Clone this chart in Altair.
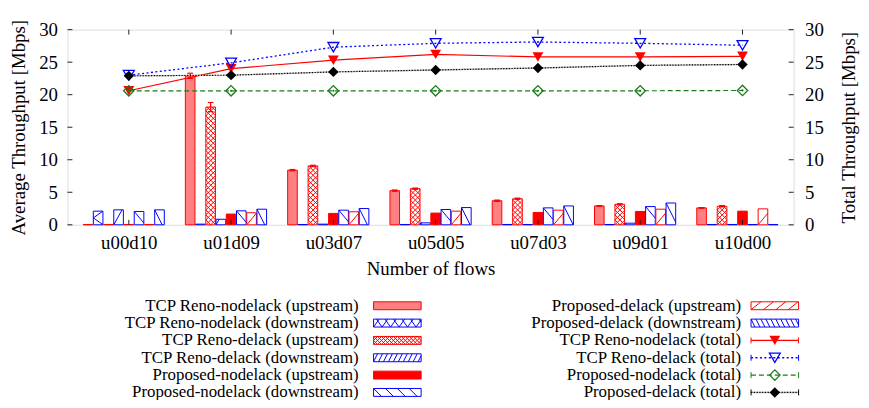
import json
import numpy as np
import pandas as pd
import altair as alt

# ---------------- data ----------------
categories = ["u00d10", "u01d09", "u03d07", "u05d05", "u07d03", "u09d01", "u10d00"]

reno_nodelack_up   = [0.05, 22.9, 8.4, 5.25, 3.7, 2.9, 2.6]
reno_nodelack_down = [2.1, 0.1, 0.05, 0.05, 0.05, 0.05, 0.05]
reno_delack_up     = [0.05, 18.1, 9.05, 5.55, 4.0, 3.15, 2.85]
reno_delack_down   = [2.3, 0.85, 0.1, 0.3, 0.05, 0.25, 0.05]
prop_nodelack_up   = [0.05, 1.65, 1.75, 1.8, 1.9, 2.05, 2.1]
prop_nodelack_down = [2.05, 2.15, 2.25, 2.35, 2.6, 2.8, 0.05]
prop_delack_up     = [0.05, 1.85, 2.0, 2.1, 2.25, 2.4, 2.45]
prop_delack_down   = [2.3, 2.4, 2.5, 2.65, 2.9, 3.35, 0.05]

reno_nodelack_up_err = [0.0, 0.4, 0.1, 0.1, 0.1, 0.05, 0.05]
reno_delack_up_err   = [0.0, 0.7, 0.1, 0.1, 0.1, 0.1, 0.1]

reno_nodelack_total = [20.6, 24.0, 25.3, 26.2, 25.8, 25.8, 25.9]
reno_delack_total   = [23.0, 24.9, 27.3, 27.9, 28.1, 27.9, 27.6]
prop_nodelack_total = [20.6, 20.6, 20.6, 20.6, 20.6, 20.6, 20.65]
prop_delack_total   = [22.9, 23.0, 23.5, 23.8, 24.1, 24.5, 24.65]

y_ticks = [0, 5, 10, 15, 20, 25, 30]

# ---------------- layout / style ----------------
FONT = "Liberation Serif"
W, H = 733, 197
XDOM = [-0.6, 6.5]
YDOM = [0, 30]
PXX = W / (XDOM[1] - XDOM[0])
PXY = H / (YDOM[1] - YDOM[0])
BAR_STEP = 0.1
BAR_HALF = 0.047
CENTER_SLOT = 4
RED, BLUE, GREEN, BLACK = "#ff0000", "#0000ff", "#1c7c1c", "#000000"

bar_series = [
    ("TCP Reno-nodelack (upstream)", reno_nodelack_up, "#ff8080", RED, None),
    ("TCP Reno-nodelack (downstream)", reno_nodelack_down, "white", BLUE, "xcoarse"),
    ("TCP Reno-delack (upstream)", reno_delack_up, "white", RED, "xfine"),
    ("TCP Reno-delack (downstream)", reno_delack_down, "white", BLUE, "fwd_steep"),
    ("Proposed-nodelack (upstream)", prop_nodelack_up, RED, RED, None),
    ("Proposed-nodelack (downstream)", prop_nodelack_down, "white", BLUE, "back"),
    ("Proposed-delack (upstream)", prop_delack_up, "white", RED, "fwd"),
    ("Proposed-delack (downstream)", prop_delack_down, "white", BLUE, "back_steep"),
]
bar_errors = {0: reno_nodelack_up_err, 2: reno_delack_up_err}

line_specs = [
    ("TCP Reno-nodelack (total)", reno_nodelack_total, RED, None, "triangle-down", True, 1.2),
    ("TCP Reno-delack (total)", reno_delack_total, BLUE, [2, 2.5], "triangle-down", False, 1.3),
    ("Proposed-nodelack (total)", prop_nodelack_total, GREEN, [5, 3], "diamond", False, 1.2),
    ("Proposed-delack (total)", prop_delack_total, BLACK, [1.2, 1.6], "diamond", True, 1.2),
]

# hatch families: (slope px/px, spacing px, phase px, anchor)
BAR_PATTERNS = {
    "xcoarse": [(0.7, 14, 7, "bottom"), (-0.7, 14, 7, "bottom")],
    "xfine": [(1.0, 5, 0, "bottom"), (-1.0, 5, 0, "bottom")],
    "fwd_steep": [(1.8, 20, 0, "bottom")],
    "back": [(-1.2, 20, 0, "top")],
    "fwd": [(1.2, 20, 0, "bottom")],
    "back_steep": [(-2.0, 22, 0, "top")],
}
LEG_PATTERNS = {
    "xcoarse": [(1.4, 12, 0, "bottom"), (-1.4, 12, 0, "bottom")],
    "xfine": [(1.0, 4, 0, "bottom"), (-1.0, 4, 0, "bottom")],
    "fwd_steep": [(2.0, 10, 0, "bottom")],
    "back": [(-1.0, 12, 0, "top")],
    "fwd": [(0.8, 10, 0, "bottom")],
    "back_steep": [(-2.0, 10, 0, "top")],
}


def clip_family(w, h, s, sp, ph, anchor):
    segs = []
    if h < 1.5:
        return segs
    if s > 0:
        cmin, cmax = -s * w, h
    else:
        cmin, cmax = 0.0, h - s * w
    base = ph if anchor == "bottom" else h + ph
    kmin = int(np.floor((cmin - base) / sp)) - 1
    kmax = int(np.ceil((cmax - base) / sp)) + 1
    for k in range(kmin, kmax + 1):
        c = base + k * sp
        xa = -c / s
        xb = (h - c) / s
        lo = max(0.0, min(xa, xb))
        hi = min(w, max(xa, xb))
        if hi - lo > 0.4:
            segs.append((lo, s * lo + c, hi, s * hi + c))
    return segs


# ---------------- build tables ----------------
bar_rows, hatch_rows, err_rows = [], [], []
for j, (name, vals, fill, stroke, pat) in enumerate(bar_series):
    for c, v in enumerate(vals):
        xc = c + (j - CENTER_SLOT) * BAR_STEP
        bar_rows.append(dict(xa=xc - BAR_HALF, xb=xc + BAR_HALF, y0=0.0, y1=v,
                             fill=fill, stroke=stroke))
        if pat:
            for (s, sp, ph, anchor) in BAR_PATTERNS[pat]:
                for lo, ylo, hi, yhi in clip_family(2 * BAR_HALF * PXX, v * PXY, s, sp, ph, anchor):
                    hatch_rows.append(dict(x1=xc - BAR_HALF + lo / PXX, x2=xc - BAR_HALF + hi / PXX,
                                           y1=ylo / PXY, y2=yhi / PXY, color=stroke))
        if j in bar_errors and bar_errors[j][c] > 0:
            e = bar_errors[j][c]
            err_rows.append(dict(x1=xc, x2=xc, y1=v - e, y2=v + e))
            err_rows.append(dict(x1=xc - 0.028, x2=xc + 0.028, y1=v + e, y2=v + e))
            err_rows.append(dict(x1=xc - 0.028, x2=xc + 0.028, y1=v - e, y2=v - e))

bars_df = pd.DataFrame(bar_rows)
hatch_df = pd.DataFrame(hatch_rows)
err_df = pd.DataFrame(err_rows)
ytick_df = pd.DataFrame({"t": y_ticks})
xtick_df = pd.DataFrame({"i": list(range(len(categories)))})

XS = alt.Scale(domain=XDOM, nice=False, zero=False)
YS = alt.Scale(domain=YDOM, nice=False, zero=False)
label_expr = json.dumps(categories) + "[datum.value]"

XAX = alt.Axis(values=list(range(len(categories))), labelExpr=label_expr, ticks=False,
               domain=False, grid=False, labelPadding=9, labelFontSize=19, labelFont=FONT,
               labelColor="black", labelOverlap=False, labelFlush=False,
               title="Number of flows", titleFont=FONT, titleFontSize=19,
               titleFontWeight="normal", titleColor="black", titlePadding=7)
YAX = alt.Axis(values=y_ticks, ticks=False, domain=False, grid=False, labelPadding=10,
               labelFontSize=19, labelFont=FONT, labelColor="black",
               title="Average Throughput [Mbps]", titleFont=FONT, titleFontSize=19,
               titleFontWeight="normal", titleColor="black", titlePadding=10)
YAXR = alt.Axis(orient="right", values=y_ticks, ticks=False, domain=False, grid=False,
                labelPadding=11, labelFontSize=19, labelFont=FONT, labelColor="black",
                title="Total Throughput [Mbps]", titleFont=FONT, titleFontSize=19,
                titleFontWeight="normal", titleColor="black", titlePadding=16,
                titleAngle=270, titleBaseline="top")


def X(f):
    return alt.X(f, scale=XS, axis=XAX)


def Y(f):
    return alt.Y(f, scale=YS, axis=YAX)


bars = alt.Chart(bars_df).mark_rect(strokeWidth=1).encode(
    x=X("xa:Q"), x2="xb", y=Y("y1:Q"), y2="y0",
    fill=alt.Fill("fill:N", scale=None), stroke=alt.Stroke("stroke:N", scale=None))
hatch = alt.Chart(hatch_df).mark_rule(strokeWidth=1).encode(
    x=X("x1:Q"), x2="x2", y=Y("y1:Q"), y2="y2", color=alt.Color("color:N", scale=None))
errs = alt.Chart(err_df).mark_rule(strokeWidth=1.2, color=RED).encode(
    x=X("x1:Q"), x2="x2", y=Y("y1:Q"), y2="y2")
tick_l = alt.Chart(ytick_df).mark_rule(color="#222", strokeWidth=1).encode(
    y=Y("t:Q"), x=alt.value(0), x2=alt.value(5))
tick_r = alt.Chart(ytick_df).mark_rule(color="#222", strokeWidth=1).encode(
    y=Y("t:Q"), x=alt.value(W - 5), x2=alt.value(W))
tick_b = alt.Chart(xtick_df).mark_rule(color="#222", strokeWidth=1).encode(
    x=X("i:Q"), y=alt.value(H), y2=alt.value(H - 5))
tick_t = alt.Chart(xtick_df).mark_rule(color="#222", strokeWidth=1).encode(
    x=X("i:Q"), y=alt.value(0), y2=alt.value(5))

main = alt.layer(bars, hatch, errs, tick_l, tick_r, tick_b, tick_t)

# total throughput lines (right axis)
line_layers = []
for name, vals, color, dash, shape, filled, sw in line_specs:
    df = pd.DataFrame({"i": list(range(len(categories))), "v": vals})
    enc = dict(x=alt.X("i:Q", scale=XS, axis=None), y=alt.Y("v:Q", scale=YS, axis=YAXR))
    if color == BLACK:
        line_layers.append(alt.Chart(df).mark_line(color="#b0b0b0", strokeWidth=1.4).encode(**enc))
    lk = dict(color=color, strokeWidth=sw)
    if dash:
        lk["strokeDash"] = dash
    line_layers.append(alt.Chart(df).mark_line(**lk).encode(**enc))
    pk = dict(shape=shape, size=120 if shape == "triangle-down" else 110, opacity=1,
              strokeWidth=1.3, color=color, filled=filled)
    line_layers.append(alt.Chart(df).mark_point(**pk).encode(**enc))
    if shape == "diamond" and not filled:
        line_layers.append(alt.Chart(df).mark_point(shape="circle", size=5, filled=True,
                                                    color=color, opacity=1).encode(**enc))
lines_grp = alt.layer(*line_layers)

# ---------------- legend (pixel layout below the plot) ----------------
LX = alt.Scale(domain=[0, W], range=[0, W], nice=False, zero=False)
LY = alt.Scale(domain=[0, H], range=[0, H], nice=False, zero=False)
ROW0, ROWSTEP = 278.7, 17.5
COLS = [dict(label_x=294, s0=309, s1=357), dict(label_x=680, s0=690, s1=738)]

entries = [(b[0], "bar", b) for b in bar_series] + [(l[0], "line", l) for l in line_specs]
text_rows, lrect_rows, lhatch_rows = [], [], []
lline_layers = []
for k, (label, kind, spec) in enumerate(entries):
    col = COLS[k // 6]
    yc = ROW0 + ROWSTEP * (k % 6)
    text_rows.append(dict(x=col["label_x"], y=yc, label=label))
    if kind == "bar":
        _, _, fill, stroke, pat = spec
        top, bot = yc - 4, yc + 4
        lrect_rows.append(dict(x=col["s0"], x2=col["s1"], y=top, y2=bot, fill=fill, stroke=stroke))
        if pat:
            for (s, sp, ph, anchor) in LEG_PATTERNS[pat]:
                for lo, ylo, hi, yhi in clip_family(col["s1"] - col["s0"], bot - top, s, sp, ph, anchor):
                    lhatch_rows.append(dict(x=col["s0"] + lo, x2=col["s0"] + hi,
                                            y=bot - ylo, y2=bot - yhi, color=stroke))
    else:
        _, _, color, dash, shape, filled, sw = spec
        ldf = pd.DataFrame({"x": [col["s0"]], "x2": [col["s1"]], "y": [yc]})
        if color == BLACK:
            lline_layers.append(alt.Chart(ldf).mark_rule(color="#b0b0b0", strokeWidth=1.4).encode(
                x=alt.X("x:Q", scale=LX, axis=None), x2="x2", y=alt.Y("y:Q", scale=LY, axis=None)))
        lk = dict(color=color, strokeWidth=sw)
        if dash:
            lk["strokeDash"] = dash
        lline_layers.append(alt.Chart(ldf).mark_rule(**lk).encode(
            x=alt.X("x:Q", scale=LX, axis=None), x2="x2", y=alt.Y("y:Q", scale=LY, axis=None)))
        cdf = pd.DataFrame({"x": [col["s0"], col["s1"]], "y": [yc - 3, yc - 3], "y2": [yc + 3, yc + 3]})
        lline_layers.append(alt.Chart(cdf).mark_rule(color=color, strokeWidth=1).encode(
            x=alt.X("x:Q", scale=LX, axis=None), y=alt.Y("y:Q", scale=LY, axis=None), y2="y2"))
        mdf = pd.DataFrame({"x": [(col["s0"] + col["s1"]) / 2], "y": [yc]})
        lline_layers.append(alt.Chart(mdf).mark_point(
            shape=shape, size=120 if shape == "triangle-down" else 110, opacity=1,
            strokeWidth=1.3, color=color, filled=filled).encode(
            x=alt.X("x:Q", scale=LX, axis=None), y=alt.Y("y:Q", scale=LY, axis=None)))

leg_text = alt.Chart(pd.DataFrame(text_rows)).mark_text(
    align="right", baseline="middle", font=FONT, fontSize=17, color="black").encode(
    x=alt.X("x:Q", scale=LX, axis=None), y=alt.Y("y:Q", scale=LY, axis=None), text="label:N")
leg_rect = alt.Chart(pd.DataFrame(lrect_rows)).mark_rect(strokeWidth=1).encode(
    x=alt.X("x:Q", scale=LX, axis=None), x2="x2", y=alt.Y("y:Q", scale=LY, axis=None), y2="y2",
    fill=alt.Fill("fill:N", scale=None), stroke=alt.Stroke("stroke:N", scale=None))
leg_hatch = alt.Chart(pd.DataFrame(lhatch_rows)).mark_rule(strokeWidth=1).encode(
    x=alt.X("x:Q", scale=LX, axis=None), x2="x2", y=alt.Y("y:Q", scale=LY, axis=None), y2="y2",
    color=alt.Color("color:N", scale=None))
legend_grp = alt.layer(leg_text, leg_rect, leg_hatch, *lline_layers)

chart = alt.layer(main, lines_grp, legend_grp).resolve_scale(
    x="independent", y="independent"
).properties(
    width=W, height=H,
    autosize=alt.AutoSizeParams(type="none"),
    padding={"left": 60, "top": 20, "right": 68, "bottom": 175},
).configure_view(stroke="#222", strokeWidth=1.2).configure(font=FONT)

chart.save("out.html", embed_options={"renderer": "svg", "actions": False})
